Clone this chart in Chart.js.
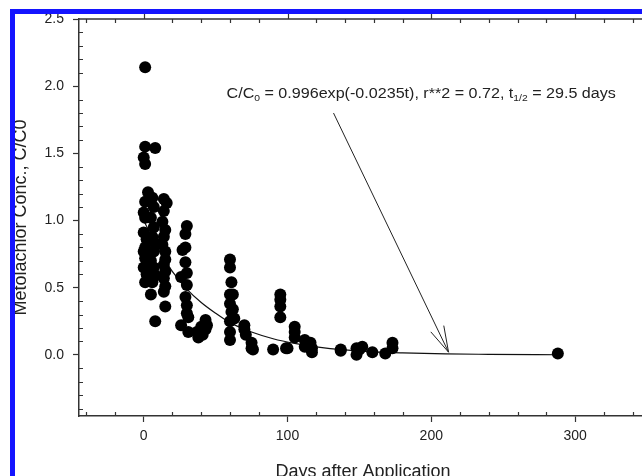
<!DOCTYPE html>
<html>
<head>
<meta charset="utf-8">
<script src="https://cdn.jsdelivr.net/npm/chart.js@4.4.0/dist/chart.umd.min.js"></script>
<style>
  html, body { margin: 0; padding: 0; background: #fff; overflow: hidden; }
  #wrap { position: absolute; left: 0; top: 0; width: 660px; height: 490px; }
</style>
</head>
<body>
<div id="wrap"><canvas id="chart" width="660" height="490"></canvas></div>
<script>
// measured C/C0 against days after application
const days = [
  1, 1, 0, 1, 3, 1, 0, 1, 0, 2, 1, 0, 1, 0, 2, 1,
  8, 6, 7, 5, 7, 6, 8, 7, 5, 7, 8, 6, 5, 8,
  14, 16, 14, 13, 15, 14, 13, 15, 15, 14, 15, 14, 15, 14, 15,
  27, 26, 26, 30, 29, 29, 29, 30, 30, 29, 30, 30, 31, 31,
  37, 38, 40, 41, 43, 43, 44,
  60, 60, 61, 60, 60, 61, 60, 60, 60, 62, 62, 63,
  70, 70, 71, 75, 75, 76,
  90, 95, 95, 95, 95, 99, 100,
  105, 105, 105, 112, 112, 116, 117, 117,
  137, 137, 148, 148, 152, 150, 159, 168, 173, 173,
  288
];
const conc = [
  2.14, 1.55, 1.47, 1.42, 1.21, 1.14, 1.06, 1.02, 0.91, 0.86, 0.80, 0.77, 0.72, 0.65, 0.60, 0.54,
  1.54, 1.17, 1.10, 1.02, 0.95, 0.88, 0.83, 0.77, 0.70, 0.65, 0.59, 0.54, 0.45, 0.25,
  1.16, 1.13, 1.07, 0.99, 0.93, 0.88, 0.82, 0.77, 0.71, 0.67, 0.62, 0.57, 0.51, 0.47, 0.36,
  0.78, 0.58, 0.22, 0.96, 0.90, 0.80, 0.69, 0.61, 0.52, 0.43, 0.37, 0.31, 0.28, 0.17,
  0.17, 0.13, 0.21, 0.15, 0.26, 0.19, 0.22,
  0.71, 0.65, 0.54, 0.45, 0.38, 0.32, 0.25, 0.17, 0.11, 0.45, 0.34, 0.27,
  0.22, 0.19, 0.15, 0.09, 0.05, 0.04,
  0.04, 0.45, 0.41, 0.36, 0.28, 0.05, 0.05,
  0.21, 0.17, 0.13, 0.11, 0.06, 0.09, 0.02, 0.05,
  0.04, 0.03, 0.05, 0.00, 0.06, 0.04, 0.02, 0.01, 0.09, 0.05,
  0.01
];

// fitted decay line
const fitDays = [0, 10, 20, 30, 40, 50, 60, 75, 90, 105, 120, 140, 160, 180, 210, 240, 290];
const fitConc = [1.00, 0.79, 0.62, 0.49, 0.39, 0.31, 0.24, 0.17, 0.12, 0.085, 0.06, 0.037, 0.023, 0.015, 0.007, 0.004, 0.001];

const xTicks = [0, 100, 200, 300];
const yTicks = [0, 0.5, 1.0, 1.5, 2.0, 2.5];

const xTitle = 'Days after Application';
const yTitle = 'Metolachlor Conc., C/C0';

// equation label: [text, isSubscript]
const fitLabel = [
  ['C/C', false], ['0', true],
  [' = 0.996exp(-0.0235t), r**2 = 0.72, t', false], ['1/2', true],
  [' = 29.5 days', false]
];
const labelAt = [57.6, 1.91];
const arrowFrom = [132, 1.80];
const arrowTo = [212, 0.02];

const FONT = '"Liberation Sans", Arial, Helvetica, sans-serif';
const INK = '#222';

const decor = {
  id: 'decor',
  afterDraw(chart) {
    const {ctx, chartArea: a, scales: {x, y}} = chart;
    ctx.save();
    ctx.strokeStyle = '#333';
    ctx.lineWidth = 1.5;
    ctx.beginPath();
    ctx.moveTo(a.left, a.top); ctx.lineTo(a.right, a.top); ctx.lineTo(a.right, a.bottom);
    ctx.stroke();

    ctx.lineWidth = 1.2;
    ctx.beginPath();
    for (let v = -40; v <= 340; v += 20) {
      const px = Math.round(x.getPixelForValue(v)) + 0.5;
      if (v % 100 === 0) {
        ctx.moveTo(px, a.top); ctx.lineTo(px, a.top - 5);
      } else {
        ctx.moveTo(px, a.bottom); ctx.lineTo(px, a.bottom - 4);
        ctx.moveTo(px, a.top); ctx.lineTo(px, a.top + 4);
      }
    }
    for (let i = -4; i <= 24; i++) {
      if (i % 5 === 0) continue;
      const py = Math.round(y.getPixelForValue(i / 10)) + 0.5;
      ctx.moveTo(a.left, py); ctx.lineTo(a.left + 4, py);
    }
    ctx.stroke();

    // arrow from the equation to the curve
    const x0 = x.getPixelForValue(arrowFrom[0]), y0 = y.getPixelForValue(arrowFrom[1]);
    const x1 = x.getPixelForValue(arrowTo[0]), y1 = y.getPixelForValue(arrowTo[1]);
    const ang = Math.atan2(y1 - y0, x1 - x0);
    ctx.lineWidth = 1;
    ctx.strokeStyle = '#222';
    ctx.beginPath();
    ctx.moveTo(x0, y0); ctx.lineTo(x1, y1);
    for (const d of [-0.27, 0.27]) {
      ctx.moveTo(x1, y1);
      ctx.lineTo(x1 - 27 * Math.cos(ang + d), y1 - 27 * Math.sin(ang + d));
    }
    ctx.stroke();

    // equation text
    ctx.fillStyle = INK;
    ctx.textBaseline = 'alphabetic';
    ctx.translate(x.getPixelForValue(labelAt[0]), y.getPixelForValue(labelAt[1]));
    ctx.scale(1.15, 1);
    let cx = 0;
    for (const [txt, sub] of fitLabel) {
      ctx.font = (sub ? '9px ' : '14px ') + FONT;
      ctx.fillText(txt, cx, sub ? 3 : 0);
      cx += ctx.measureText(txt).width;
    }
    ctx.setTransform(1, 0, 0, 1, 0, 0);

    // blue frame
    ctx.fillStyle = '#1414ff';
    ctx.fillRect(10, 9, chart.width, 5);
    ctx.fillRect(10, 9, 5, chart.height);
    ctx.restore();
  }
};

new Chart(document.getElementById('chart'), {
  type: 'scatter',
  data: {
    datasets: [
      {
        label: 'measured',
        data: days.map((d, i) => ({x: d, y: conc[i]})),
        backgroundColor: '#000',
        borderWidth: 0,
        pointRadius: 6,
        order: 1
      },
      {
        label: 'fit',
        type: 'line',
        data: fitDays.map((d, i) => ({x: d, y: fitConc[i]})),
        borderColor: '#111',
        borderWidth: 1.2,
        pointRadius: 0,
        fill: false,
        cubicInterpolationMode: 'monotone',
        order: 2
      }
    ]
  },
  options: {
    responsive: false,
    devicePixelRatio: 1,
    animation: false,
    layout: {padding: {top: 19, right: 13, left: 0, bottom: 0}},
    plugins: {legend: {display: false}, tooltip: {enabled: false}},
    scales: {
      x: {
        type: 'linear',
        min: -45,
        max: 350,
        afterBuildTicks: s => { s.ticks = xTicks.map(v => ({value: v})); },
        afterFit: s => { s.height = 74; },
        ticks: {color: INK, font: {family: FONT, size: 14}, padding: 6},
        grid: {drawOnChartArea: false, drawTicks: true, tickLength: 6, tickColor: '#333', tickWidth: 1.2},
        border: {display: true, color: '#333', width: 1.5},
        title: {display: true, text: xTitle, color: INK, font: {family: FONT, size: 18}, padding: {top: 0, bottom: 7}}
      },
      y: {
        type: 'linear',
        min: -0.455,
        max: 2.5,
        afterBuildTicks: s => { s.ticks = yTicks.map(v => ({value: v})); },
        afterFit: s => { s.width = 79; },
        ticks: {color: INK, font: {family: FONT, size: 14}, padding: 9, callback: v => v.toFixed(1)},
        grid: {drawOnChartArea: false, drawTicks: true, tickLength: 6, tickColor: '#333', tickWidth: 1.2},
        border: {display: true, color: '#333', width: 1.5},
        title: {display: true, text: yTitle, color: INK, font: {family: FONT, size: 18}, padding: {top: 10, bottom: 0}}
      }
    }
  },
  plugins: [decor]
});
</script>
</body>
</html>
